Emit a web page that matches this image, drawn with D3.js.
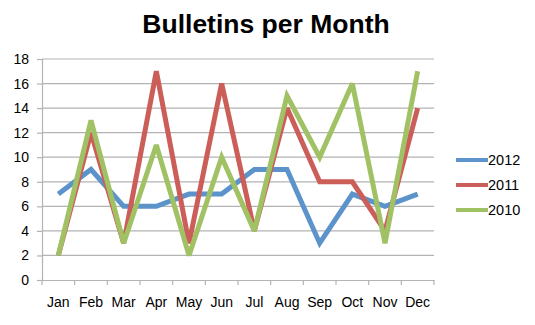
<!DOCTYPE html>
<html>
<head>
<meta charset="utf-8">
<script src="https://cdn.jsdelivr.net/npm/d3@7"></script>
<style>
  html, body { margin: 0; padding: 0; background: #fff; }
  svg { display: block; font-family: "Liberation Sans", Arial, sans-serif; }
</style>
</head>
<body>
<svg id="chart" width="535" height="325"></svg>
<script>
// Monthly bulletin counts
const months = ["Jan","Feb","Mar","Apr","May","Jun","Jul","Aug","Sep","Oct","Nov","Dec"];
const seriesNames = ["2012", "2011", "2010"];
const values2012 = [7, 9, 6, 6, 7, 7, 9, 9, 3, 7, 6, 7];
const values2011 = [2, 12, 3, 17, 3, 16, 4, 14, 8, 8, 4, 14];
const values2010 = [2, 13, 3, 11, 2, 10, 4, 15, 10, 16, 3, 17];
const yTicks = [0, 2, 4, 6, 8, 10, 12, 14, 16, 18];
const colors = ["#5B93CA", "#CC5E5A", "#A1C165"];

const series = [
  { name: seriesNames[0], values: values2012, color: colors[0] },
  { name: seriesNames[1], values: values2011, color: colors[1] },
  { name: seriesNames[2], values: values2010, color: colors[2] }
];

const svg = d3.select("#chart");
const plot = { left: 42, right: 434, top: 59, bottom: 280 };

const x = d3.scaleBand().domain(months).range([plot.left, plot.right]);
const y = d3.scaleLinear().domain([0, 18]).range([plot.bottom, plot.top]);

// Title
svg.append("text")
  .attr("x", 266).attr("y", 33)
  .attr("text-anchor", "middle")
  .attr("font-size", 26.5).attr("font-weight", "bold")
  .attr("fill", "#000")
  .text("Bulletins per Month");

// Horizontal gridlines
svg.append("g")
  .selectAll("line")
  .data(yTicks.filter(d => d > 0))
  .join("line")
  .attr("x1", plot.left).attr("x2", plot.right)
  .attr("y1", d => y(d)).attr("y2", d => y(d))
  .attr("stroke", "#B3B3B3").attr("stroke-width", 1.2);

// Y axis
const yAxis = svg.append("g")
  .attr("transform", `translate(${plot.left},0)`)
  .call(d3.axisLeft(y).tickValues(yTicks).tickSize(5).tickPadding(8));
yAxis.select(".domain").attr("stroke", "#B3B3B3").attr("stroke-width", 1.2);
yAxis.selectAll(".tick line").attr("stroke", "#B3B3B3").attr("stroke-width", 1.2);
yAxis.selectAll("text").attr("font-size", 14).attr("fill", "#000")
  .attr("font-family", "'Liberation Sans', Arial, sans-serif");

// X axis with ticks at band boundaries
const xAxis = svg.append("g")
  .attr("transform", `translate(0,${plot.bottom})`)
  .call(d3.axisBottom(x).tickSize(0).tickPadding(17));
xAxis.select(".domain").attr("stroke", "#B3B3B3").attr("stroke-width", 1.2);
xAxis.selectAll("text").attr("font-size", 14).attr("fill", "#000")
  .attr("font-family", "'Liberation Sans', Arial, sans-serif");
const boundaries = months.map(m => x(m)).concat([x(months[months.length - 1]) + x.bandwidth()]);
xAxis.append("g").selectAll("line")
  .data(boundaries)
  .join("line")
  .attr("x1", d => d).attr("x2", d => d)
  .attr("y1", 0).attr("y2", 5)
  .attr("stroke", "#B3B3B3").attr("stroke-width", 1.2);

// Lines, in series order so 2010 sits on top
const line = d3.line()
  .x((d, i) => x(months[i]) + x.bandwidth() / 2)
  .y(d => y(d));

svg.append("g")
  .selectAll("path")
  .data(series)
  .join("path")
  .attr("d", d => line(d.values))
  .attr("fill", "none")
  .attr("stroke", d => d.color)
  .attr("stroke-width", 5)
  .attr("stroke-linejoin", "miter")
  .attr("stroke-miterlimit", 3);

// Legend
const legend = svg.append("g");
const legendY = [160, 185, 210];
series.forEach((s, i) => {
  legend.append("line")
    .attr("x1", 456).attr("x2", 488)
    .attr("y1", legendY[i]).attr("y2", legendY[i])
    .attr("stroke", s.color).attr("stroke-width", 4);
  legend.append("text")
    .attr("x", 488).attr("y", legendY[i])
    .attr("dy", "0.36em")
    .attr("font-size", 14.5).attr("fill", "#000")
    .text(s.name);
});
</script>
</body>
</html>
